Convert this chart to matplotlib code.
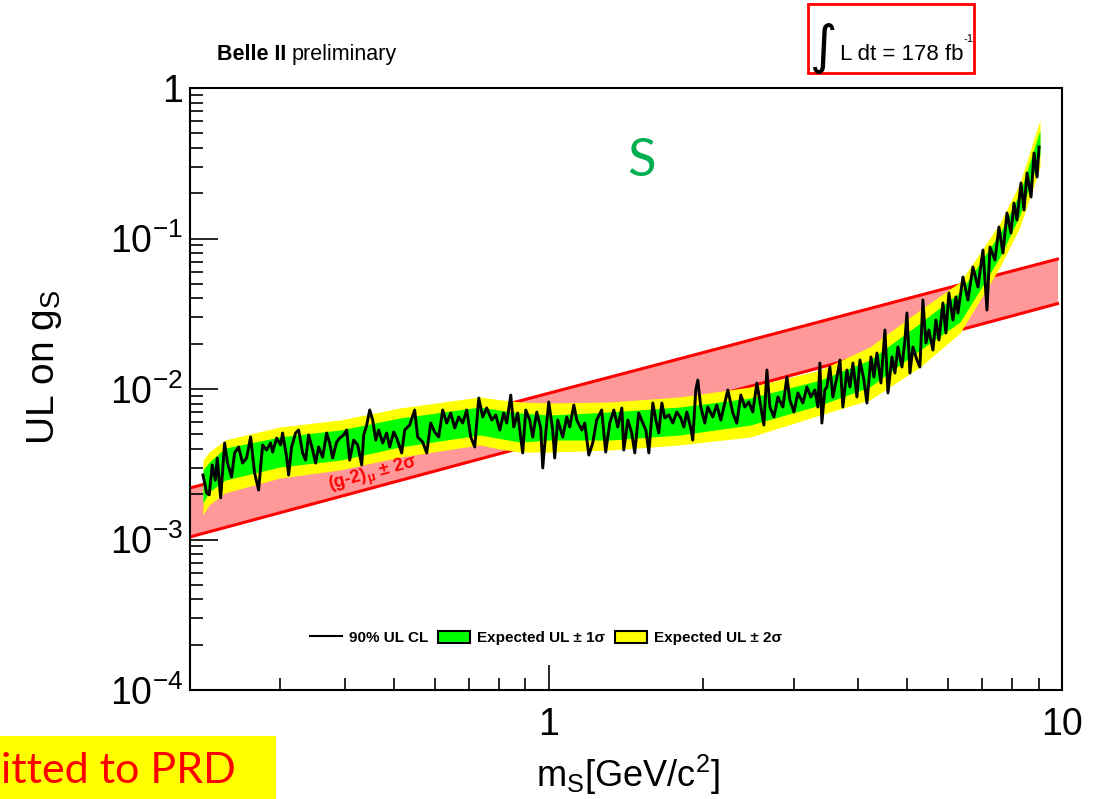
import numpy as np
import matplotlib
matplotlib.use("Agg")
import matplotlib.pyplot as plt
from matplotlib.lines import Line2D
from matplotlib.patches import Patch, Rectangle
from matplotlib.ticker import FixedLocator, NullFormatter

plt.rcParams['font.family'] = ['Liberation Sans', 'DejaVu Sans']
plt.rcParams['mathtext.fontset'] = 'custom'
plt.rcParams['mathtext.rm'] = 'Liberation Sans'
plt.rcParams['mathtext.it'] = 'Liberation Sans:italic'
plt.rcParams['mathtext.bf'] = 'Liberation Sans:bold'
plt.rcParams['mathtext.default'] = 'regular'

##############################################################################
# observed 90% CL upper limit (values in units of 1e-3)
m_obs = [0.212, 0.2155, 0.218, 0.221, 0.224, 0.226, 0.2295, 0.2336, 0.2367, 0.241,
         0.2443, 0.2487, 0.2532, 0.2578, 0.2625, 0.2672, 0.2721, 0.277, 0.282, 0.2871,
         0.2897, 0.295, 0.3003, 0.303, 0.3085, 0.3113, 0.3155, 0.3212, 0.3256, 0.3315,
         0.336, 0.3405, 0.3467, 0.3514, 0.3561, 0.3626, 0.3692, 0.3742, 0.3792, 0.3861,
         0.3914, 0.3985, 0.4039, 0.4094, 0.4168, 0.4244, 0.4321, 0.436, 0.4419, 0.4479,
         0.4539, 0.4601, 0.4663, 0.4747, 0.4833, 0.4899, 0.4988, 0.5055, 0.517, 0.524,
         0.5311, 0.5358, 0.548, 0.5554, 0.5681, 0.5784, 0.5888, 0.5995, 0.6104, 0.6214,
         0.6327, 0.6442, 0.6559, 0.6678, 0.6799, 0.6922, 0.7047, 0.7175, 0.7305, 0.7437,
         0.7572, 0.7744, 0.7884, 0.8027, 0.8172, 0.8283, 0.8433, 0.8546, 0.87, 0.8897,
         0.902, 0.9183, 0.9307, 0.9476, 0.9647, 0.9734, 0.9866, 1.000, 1.018, 1.027,
         1.041, 1.065, 1.084, 1.099, 1.119, 1.134, 1.160, 1.175, 1.197, 1.218,
         1.240, 1.268, 1.291, 1.315, 1.339, 1.363, 1.388, 1.400, 1.426, 1.451,
         1.471, 1.497, 1.525, 1.546, 1.567, 1.595, 1.617, 1.638, 1.661, 1.683,
         1.714, 1.745, 1.776, 1.808, 1.833, 1.858, 1.891, 1.908, 1.934, 1.952,
         1.978, 2.014, 2.041, 2.087, 2.125, 2.164, 2.203, 2.233, 2.284, 2.325,
         2.367, 2.410, 2.454, 2.498, 2.544, 2.590, 2.625, 2.661, 2.697, 2.746,
         2.796, 2.859, 2.911, 2.950, 3.004, 3.058, 3.128, 3.184, 3.242, 3.300,
         3.345, 3.375, 3.405, 3.451, 3.483, 3.530, 3.578, 3.643, 3.693, 3.742,
         3.810, 3.862, 3.914, 3.985, 4.039, 4.112, 4.168, 4.244, 4.301, 4.359,
         4.438, 4.519, 4.580, 4.663, 4.726, 4.790, 4.877, 4.943, 4.987, 5.055,
         5.123, 5.216, 5.286, 5.358, 5.431, 5.504, 5.604, 5.680, 5.757, 5.861,
         5.940, 6.021, 6.130, 6.214, 6.270, 6.412, 6.557, 6.706, 6.859, 7.015,
         7.142, 7.239, 7.403, 7.537, 7.674, 7.813, 7.954, 8.062, 8.172, 8.318,
         8.432, 8.548, 8.703, 8.820, 8.941, 9.022]
ul_obs_e3 = [2.68, 2.04, 1.98, 3.13, 2.48, 3.48, 1.89, 4.38, 3.22, 2.60,
             3.76, 4.12, 3.22, 3.48, 4.80, 2.77, 2.13, 4.25, 3.93, 4.38,
             3.81, 4.72, 4.25, 5.10, 3.53, 2.68, 4.12, 5.10, 5.34, 3.76,
             3.37, 4.95, 3.93, 3.22, 4.12, 3.53, 5.10, 4.38, 3.48, 4.44,
             4.72, 4.95, 5.34, 3.37, 4.58, 4.25, 3.13, 4.95, 5.76, 7.25,
             6.22, 4.58, 5.34, 4.38, 5.10, 4.12, 5.18, 4.72, 3.76, 5.34,
             5.59, 5.76, 7.25, 4.80, 4.44, 3.76, 5.94, 5.18, 4.80, 7.25,
             5.94, 6.93, 5.51, 6.52, 5.94, 7.25, 4.80, 4.12, 8.71, 6.52,
             7.48, 6.22, 6.72, 5.34, 6.93, 5.94, 9.12, 5.59, 6.93, 3.76,
             7.25, 6.22, 4.80, 7.03, 5.51, 2.99, 5.10, 8.20, 5.34, 3.48,
             6.22, 4.80, 6.52, 5.59, 7.83, 6.22, 5.34, 5.94, 3.64, 4.38,
             6.22, 7.25, 3.81, 5.94, 7.25, 5.59, 7.48, 3.93, 6.22, 5.10,
             3.76, 6.93, 5.94, 5.34, 3.76, 8.07, 6.22, 5.10, 8.07, 6.42,
             6.72, 5.94, 7.03, 6.42, 5.59, 7.03, 5.51, 4.58, 9.85, 11.47,
             7.59, 5.94, 7.59, 6.52, 7.83, 6.22, 8.07, 9.85, 6.93, 5.94,
             9.12, 7.59, 8.20, 7.03, 10.96, 7.59, 5.76, 13.37, 7.59, 6.52,
             8.85, 7.59, 12.01, 8.45, 7.03, 9.41, 8.07, 10.31, 8.85, 9.85,
             7.59, 14.88, 5.94, 9.85, 10.31, 14.00, 8.85, 12.01, 15.58, 7.59,
             13.37, 10.31, 14.88, 8.85, 15.58, 11.47, 8.07, 16.32, 12.01, 17.34,
             10.96, 24.66, 9.41, 16.32, 12.77, 19.01, 14.00, 21.16, 31.98, 12.77,
             19.01, 15.58, 14.00, 39.03, 20.21, 24.66, 18.15, 28.73, 21.16, 37.27,
             23.55, 43.43, 28.73, 40.87, 31.98, 55.48, 39.03, 64.65, 47.61, 83.84,
             33.48, 87.80, 71.97, 119.2, 80.11, 147.7, 108.8, 172.1, 132.7, 233.8,
             154.6, 272.3, 188.7, 369.9, 256.2, 405.5]

# expected UL bands (units of 1e-3)
m_exp = [0.212, 0.218, 0.234, 0.299, 0.392, 0.513, 0.734, 0.80, 0.878, 1.005, 1.315,
         1.80, 2.47, 3.38, 4.22, 5.29, 6.33, 6.92, 7.57, 8.28, 9.06]
exp_2lo_e3 = [1.46, 1.70, 2.04, 2.56, 2.90, 3.53, 4.25, 4.00, 3.81, 3.81, 3.93,
              4.25, 4.80, 6.72, 8.45, 14.0, 23.55, 39.0, 64.6, 119.2, 298.6]
exp_1lo_e3 = [1.75, 2.07, 2.48, 3.03, 3.37, 4.12, 4.95, 4.70, 4.44, 4.58, 4.58,
              4.95, 5.76, 7.83, 10.31, 18.15, 27.9, 45.5, 75.4, 143.3, 359.0]
exp_1hi_e3 = [2.90, 3.27, 4.05, 4.80, 5.34, 6.42, 7.59, 7.25, 6.93, 6.72, 7.03,
              7.59, 8.71, 11.47, 15.58, 27.4, 44.1, 68.7, 108.8, 200.5, 526.0]
exp_2hi_e3 = [3.37, 3.81, 4.58, 5.59, 6.22, 7.48, 8.85, 8.50, 8.20, 8.07, 8.20,
              8.85, 10.31, 13.37, 19.01, 33.48, 51.4, 80.1, 126.8, 233.8, 613.0]

# (g-2)_mu +- 2 sigma band (units of 1e-3)
m_g2 = [0.2, 0.5, 1.0, 2.0, 5.0, 9.8]
g2_lo_e3 = [1.04, 2.41, 4.55, 8.59, 19.9, 36.9]
g2_hi_e3 = [2.20, 5.02, 9.37, 17.47, 39.9, 73.0]

x_minor = [0.2, 0.3, 0.4, 0.5, 0.6, 0.7, 0.8, 0.9, 2, 3, 4, 5, 6, 7, 8, 9]
y_major = [1e-4, 1e-3, 1e-2, 1e-1, 1]
y_labels = ['$10^{-4}$', '$10^{-3}$', '$10^{-2}$', '$10^{-1}$', '1']
##############################################################################

W, H = 1100, 799
fig = plt.figure(figsize=(W / 100, H / 100), dpi=100)
ax = fig.add_axes([190 / W, 1 - 690 / H, 872 / W, 602 / H])
ax.set_xscale('log')
ax.set_yscale('log')

e3 = 1e-3
ax.fill_between(m_g2, np.array(g2_lo_e3) * e3, np.array(g2_hi_e3) * e3,
                color='#ff9999', lw=0, zorder=1)
ax.plot(m_g2, np.array(g2_hi_e3) * e3, color='red', lw=2.2, zorder=2)
ax.plot(m_g2, np.array(g2_lo_e3) * e3, color='red', lw=2.2, zorder=2)
ax.fill_between(m_exp, np.array(exp_2lo_e3) * e3, np.array(exp_2hi_e3) * e3,
                color='#ffff00', lw=0, zorder=3)
ax.fill_between(m_exp, np.array(exp_1lo_e3) * e3, np.array(exp_1hi_e3) * e3,
                color='#00ff00', lw=0, zorder=4)
ax.plot(m_obs, np.array(ul_obs_e3) * e3, color='black', lw=2.1, zorder=5)

ax.set_xlim(0.2, 10)
ax.set_ylim(1e-4, 1)

ax.text(0.374, 2.13e-3, '(g-2)$_{\\mu}$ \u00b1 2\u03c3', color='red',
        fontsize=13, fontweight='bold', rotation=15, rotation_mode='anchor',
        ha='left', va='baseline', zorder=6)

# axes / ticks, ROOT like
ax.xaxis.set_major_locator(FixedLocator([1, 10]))
ax.xaxis.set_minor_locator(FixedLocator(x_minor))
ax.xaxis.set_minor_formatter(NullFormatter())
ax.set_xticklabels(['1', '10'])
ax.yaxis.set_major_locator(FixedLocator(y_major))
ax.yaxis.set_minor_locator(FixedLocator([k * 10.0 ** d for d in range(-4, 0) for k in range(2, 10)]))
ax.yaxis.set_minor_formatter(NullFormatter())
ax.set_yticklabels(y_labels)
ax.tick_params(which='both', direction='in', top=False, right=False, width=1.2)
ax.tick_params(axis='x', which='major', length=18, labelsize=27, pad=12)
ax.tick_params(axis='x', which='minor', length=9)
ax.tick_params(axis='y', which='major', length=20, labelsize=27, pad=5)
ax.tick_params(axis='y', which='minor', length=9.5)
for s in ax.spines.values():
    s.set_linewidth(1.5)

handles = [Line2D([0], [0], color='black', lw=1.5),
           Patch(facecolor='#00ff00', edgecolor='black', lw=1.5),
           Patch(facecolor='#ffff00', edgecolor='black', lw=1.5)]
labels = ['90% UL CL', 'Expected UL \u00b1 1\u03c3', 'Expected UL \u00b1 2\u03c3']
ax.legend(handles, labels, ncol=3, loc='center', bbox_to_anchor=(0.408, 0.0864),
          frameon=False, prop={'weight': 'bold', 'size': 11},
          handlelength=2.1, handleheight=0.9, columnspacing=0.65, handletextpad=0.45)

# labels
fig.text(628 / W, 1 - 787 / H, 'm$_S$[GeV/c$^2$]', fontsize=26, ha='center', va='baseline')
fig.text(45 / W, 1 - 367 / H, 'UL on g$_S$', fontsize=28, rotation=90, ha='center', va='center')

fig.text(217 / W, 1 - 60 / H, 'Belle II', fontsize=15.5, fontweight='bold', va='baseline')
fig.text(292 / W, 1 - 60 / H, 'preliminary', fontsize=15.5, va='baseline')

fig.patches.append(Rectangle((808 / W, 1 - 73 / H), 166 / W, 69 / H, transform=fig.transFigure,
                             fill=False, edgecolor='red', lw=2.0))
fig.text(824 / W, 1 - 48 / H, '\u222b', family='DejaVu Sans', fontsize=38, ha='center', va='center')
fig.text(840 / W, 1 - 60 / H, 'L dt = 178 fb', fontsize=16, va='baseline')
fig.text(964 / W, 1 - 42 / H, '-1', fontsize=8, va='baseline')

fig.text(642 / W, 1 - 162 / H, 'S', color='#00b050', fontsize=38, family='Lato',
         ha='center', va='center')

fig.patches.append(Rectangle((0, 0), 276 / W, 63 / H, transform=fig.transFigure,
                             facecolor='#ffff00', edgecolor='none'))
fig.text(1 / W, 1 - 771 / H, 'itted to PRD', color='#ff0000', fontsize=31, family='Lato',
         ha='left', va='center')

fig.savefig('out.png', dpi=100)
